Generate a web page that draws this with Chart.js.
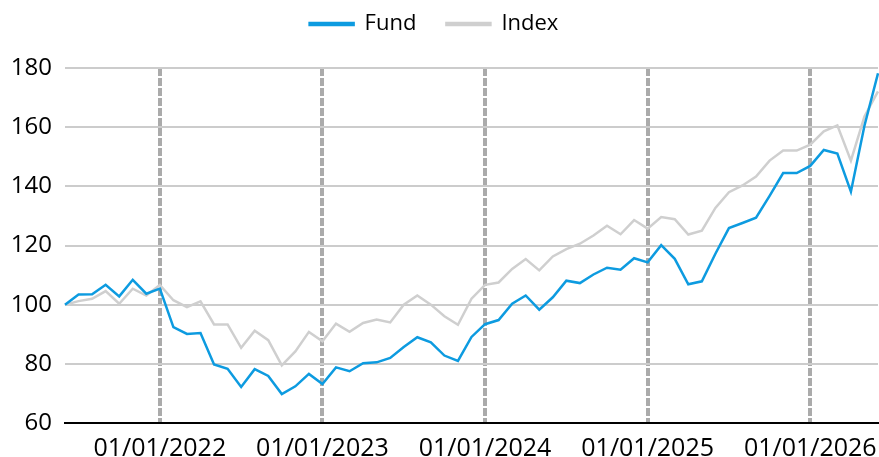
<!DOCTYPE html>
<html>
<head>
<meta charset="utf-8">
<script src="https://cdn.jsdelivr.net/npm/chart.js@4"></script>
<style>
  body { margin: 0; background: #fff; }
  #wrap { width: 879px; height: 457px; }
</style>
</head>
<body>
<div id="wrap"><canvas id="fundChart"></canvas></div>
<script>
const months = [
  '01/06/2021', '01/07/2021', '01/08/2021', '01/09/2021', '01/10/2021', '01/11/2021', '01/12/2021',
  '01/01/2022', '01/02/2022', '01/03/2022', '01/04/2022', '01/05/2022', '01/06/2022',
  '01/07/2022', '01/08/2022', '01/09/2022', '01/10/2022', '01/11/2022', '01/12/2022',
  '01/01/2023', '01/02/2023', '01/03/2023', '01/04/2023', '01/05/2023', '01/06/2023',
  '01/07/2023', '01/08/2023', '01/09/2023', '01/10/2023', '01/11/2023', '01/12/2023',
  '01/01/2024', '01/02/2024', '01/03/2024', '01/04/2024', '01/05/2024', '01/06/2024',
  '01/07/2024', '01/08/2024', '01/09/2024', '01/10/2024', '01/11/2024', '01/12/2024',
  '01/01/2025', '01/02/2025', '01/03/2025', '01/04/2025', '01/05/2025', '01/06/2025',
  '01/07/2025', '01/08/2025', '01/09/2025', '01/10/2025', '01/11/2025', '01/12/2025',
  '01/01/2026', '01/02/2026', '01/03/2026', '01/04/2026', '01/05/2026', '01/06/2026'
];

const fundValues = [
  100, 103.4, 103.5, 106.7, 102.8, 108.4, 103.7,
  105.4, 92.4, 90.1, 90.4, 79.8, 78.3, 72.2, 78.2, 75.9, 69.8, 72.4, 76.6,
  73.2, 78.8, 77.5, 80.2, 80.5, 82, 85.7, 89, 87.3, 82.8, 81, 89.1,
  93.4, 94.8, 100.3, 103.1, 98.3, 102.5, 108.1, 107.3, 110.2, 112.5, 111.8, 115.7,
  114.3, 120.1, 115.5, 106.9, 107.9, 117.2, 125.9, 127.6, 129.4, 136.8, 144.5, 144.5,
  146.9, 152.3, 151.1, 138.2, 160.5, 178.2
];

const indexValues = [
  100, 101.2, 102, 104.6, 100.3, 105.4, 103.1,
  106.7, 101.5, 99.2, 101.1, 93.3, 93.3, 85.4, 91.2, 88, 79.5, 84.2, 90.8,
  87.6, 93.6, 90.8, 93.8, 95, 94, 100, 103.1, 100, 96.1, 93.2, 102,
  106.7, 107.5, 112.1, 115.4, 111.6, 116.3, 118.8, 120.6, 123.4, 126.7, 123.8, 128.6,
  125.7, 129.6, 128.9, 123.7, 125, 132.7, 138, 140.3, 143.3, 148.7, 152.1, 152.1,
  154.1, 158.6, 160.6, 148.7, 163.6, 172.1
];

const yTicks = [60, 80, 100, 120, 140, 160, 180];

const fontFamily = "'Open Sans', sans-serif";

// bara januari får etikett och streckad linje
function isJanuary(label) {
  return label.slice(3, 5) === '01';
}

// extra luft mellan legend och diagram, och legenden lite åt vänster
const legendMargin = {
  id: 'legendMargin',
  beforeInit(chart) {
    const origFit = chart.legend.fit;
    chart.legend.fit = function fit() {
      origFit.bind(chart.legend)();
      this.height += 23;
      this.lineWidths[0] += 22;
    };
  }
};

new Chart(document.getElementById('fundChart'), {
  type: 'line',
  data: {
    labels: months,
    datasets: [
      {
        label: 'Fund',
        data: fundValues,
        borderColor: '#0d9be0',
        backgroundColor: '#0d9be0',
        borderWidth: 2.5,
        pointRadius: 0,
        tension: 0
      },
      {
        label: 'Index',
        data: indexValues,
        borderColor: '#cfcfcf',
        backgroundColor: '#cfcfcf',
        borderWidth: 2.5,
        pointRadius: 0,
        tension: 0
      }
    ]
  },
  plugins: [legendMargin],
  options: {
    responsive: true,
    maintainAspectRatio: false,
    animation: false,
    layout: { padding: { left: 12, right: 1, top: -17, bottom: 0 } },
    scales: {
      x: {
        afterFit: scale => {
          scale.paddingRight = 0;
          scale.height = 34;
        },
        grid: {
          drawTicks: false,
          lineWidth: 4,
          color: ctx => (ctx.tick && isJanuary(months[ctx.index])) ? '#ababab' : 'rgba(0,0,0,0)'
        },
        border: { display: true, color: '#000', width: 2, dash: [8, 2] },
        ticks: {
          autoSkip: false,
          maxRotation: 0,
          padding: 13,
          color: '#000',
          font: { family: fontFamily, size: 25, lineHeight: 1 },
          callback: function (val, i) {
            return isJanuary(months[i]) ? months[i] : '';
          }
        }
      },
      y: {
        min: 60,
        max: 180,
        afterBuildTicks: axis => { axis.ticks = yTicks.map(v => ({ value: v })); },
        afterFit: scale => { scale.width = 53; },
        grid: { drawTicks: false, color: '#cccccc', lineWidth: 2 },
        border: { display: false },
        ticks: {
          padding: 13,
          color: '#000',
          font: { family: fontFamily, size: 24 }
        }
      }
    },
    plugins: {
      legend: {
        position: 'top',
        labels: {
          boxWidth: 44,
          boxHeight: 2,
          padding: 30,
          color: '#000',
          font: { family: fontFamily, size: 22 }
        }
      },
      tooltip: { enabled: false }
    }
  }
});
</script>
</body>
</html>
